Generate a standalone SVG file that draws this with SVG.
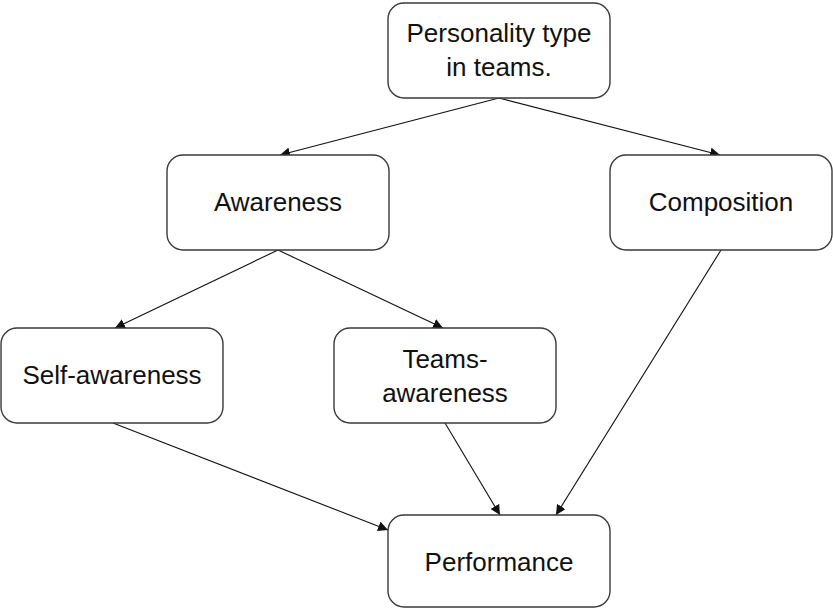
<svg xmlns="http://www.w3.org/2000/svg" width="833" height="609" viewBox="0 0 833 609">
<style>
.box{fill:#fff;stroke:#3a3a3a;stroke-width:1.4}
.lbl{font-family:"Liberation Sans",Arial,sans-serif;font-size:26px;fill:#111;text-anchor:middle}
.edge{stroke:#111;stroke-width:1.1;fill:none;marker-end:url(#ah)}
</style>
<defs>
<marker id="ah" viewBox="0 0 10 10" refX="10" refY="5" markerWidth="10" markerHeight="10" markerUnits="userSpaceOnUse" orient="auto">
<path d="M0,0 L10,5 L0,10 z" fill="#111"/>
</marker>
</defs>
<rect width="833" height="609" fill="#fff"/>
<g id="connectors">
<line class="edge" x1="499" y1="98" x2="280" y2="155"/>
<line class="edge" x1="499" y1="98" x2="720" y2="155"/>
<line class="edge" x1="278" y1="250" x2="115" y2="328"/>
<line class="edge" x1="278" y1="250" x2="443" y2="328"/>
<line class="edge" x1="113" y1="423" x2="388" y2="530"/>
<line class="edge" x1="445" y1="423" x2="500" y2="515"/>
<line class="edge" x1="721" y1="250" x2="556" y2="515"/>
</g>
<g id="n-personality">
<rect class="box" x="388" y="3" width="222" height="95" rx="16"/>
<text class="lbl" x="499" y="42">Personality type</text>
<text class="lbl" x="499" y="76">in teams.</text>
</g>
<g id="n-awareness">
<rect class="box" x="167" y="155" width="222" height="95" rx="16"/>
<text class="lbl" x="278" y="211">Awareness</text>
</g>
<g id="n-composition">
<rect class="box" x="610" y="155" width="222" height="95" rx="16"/>
<text class="lbl" x="721" y="211">Composition</text>
</g>
<g id="n-self">
<rect class="box" x="1" y="328" width="222" height="95" rx="16"/>
<text class="lbl" x="112" y="384">Self-awareness</text>
</g>
<g id="n-teams">
<rect class="box" x="334" y="328" width="222" height="95" rx="16"/>
<text class="lbl" x="445" y="368">Teams-</text>
<text class="lbl" x="445" y="402">awareness</text>
</g>
<g id="n-performance">
<rect class="box" x="388" y="515" width="222" height="92" rx="16"/>
<text class="lbl" x="499" y="571">Performance</text>
</g>
</svg>
